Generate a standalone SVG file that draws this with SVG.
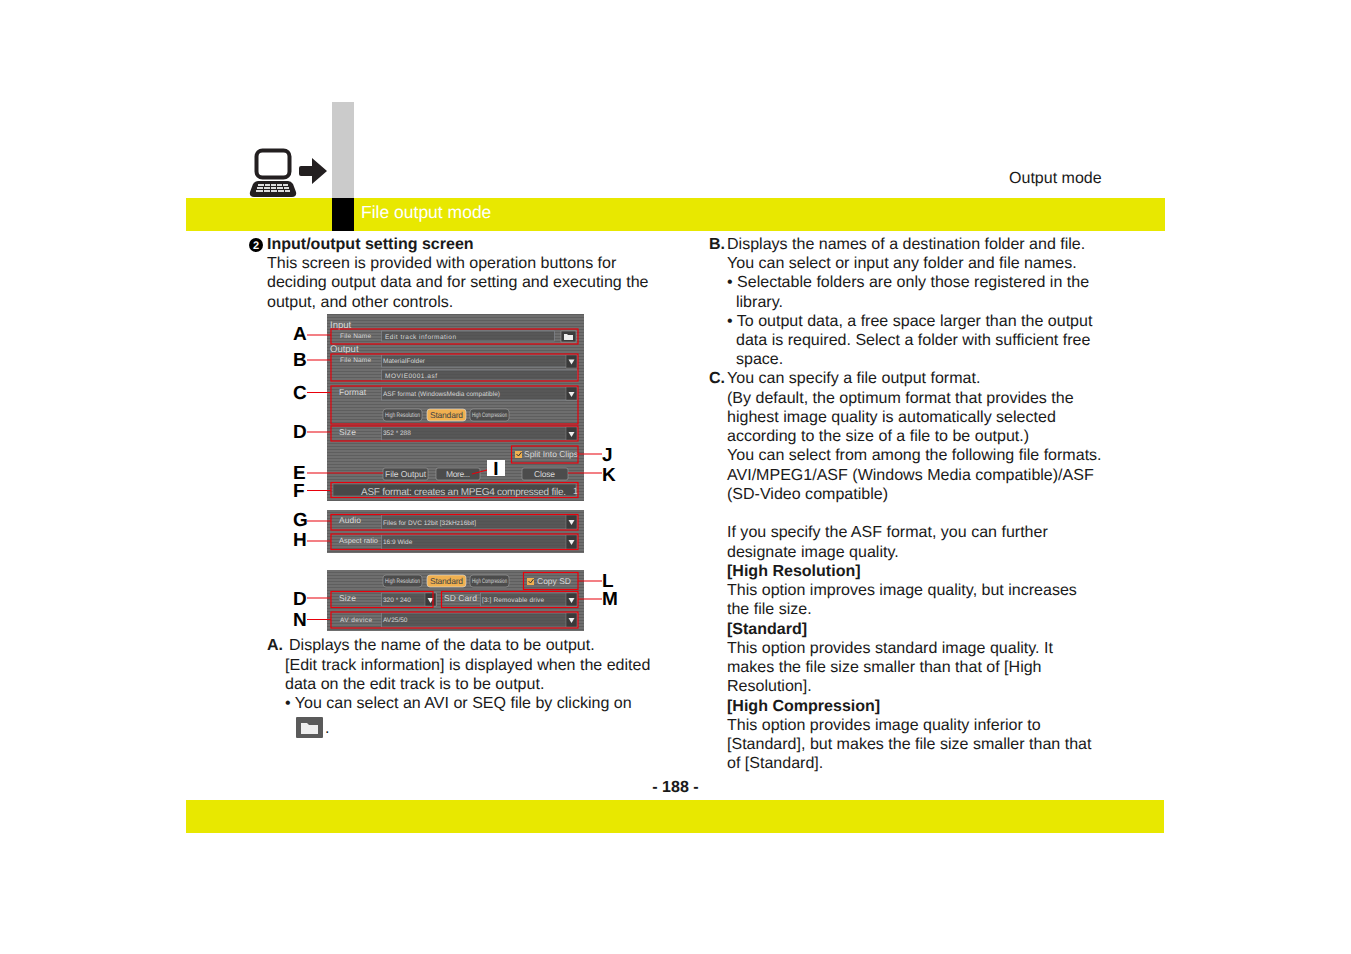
<svg xmlns="http://www.w3.org/2000/svg" width="1351" height="954" viewBox="0 0 1351 954">
<style>
text{text-rendering:geometricPrecision}
.t{font-family:"Liberation Sans",Arial,sans-serif;font-size:16.050px;fill:#1a1a1a}
.b{font-weight:bold}
.L{font-family:"Liberation Sans",Arial,sans-serif;font-size:19px;font-weight:bold;fill:#000}
.u{font-family:"Liberation Sans",Arial,sans-serif;font-size:8.500px;fill:#d8d8d8}
.s{font-family:"Liberation Sans",Arial,sans-serif;font-size:6.500px;fill:#d8d8d8}
.f{fill:#505050;fill-opacity:.75;stroke:#8a9098;stroke-width:.6}
.dd{fill:#3a3a3a;stroke:#999;stroke-width:.4}
.ar{fill:#eee}
.btn{fill:#4c4c4c;stroke:#a0a0a0;stroke-width:.6}
.on{fill:#f0b050;stroke:#ddd;stroke-width:.6}
.r{fill:none;stroke:#e8000b;stroke-width:1.200}
.l{stroke:#e8000b;stroke-width:1.100;fill:none}
</style>
<defs>
<pattern id="st" width="3" height="3" patternUnits="userSpaceOnUse"><rect width="3" height="3" fill="#6e6e6e"/><rect y="2" width="3" height="1" fill="#5e5e5e"/></pattern>
</defs>
<rect width="1351" height="954" fill="#fff"/>
<g id="header">
<rect x="332" y="102" width="22" height="96" fill="#cbcbcb"/>
<rect x="186" y="198" width="979" height="33" fill="#e8e800"/>
<rect x="332" y="198" width="22" height="33" fill="#000"/>
<text x="361" y="218" style="font-family:'Liberation Sans',Arial,sans-serif;font-size:17.500px;fill:#fff">File output mode</text>
<text class="t" x="1009" y="183">Output mode</text>
<g id="computer-icon">
<rect x="256.500" y="150.500" width="33" height="27" rx="6" fill="#fff" stroke="#231f20" stroke-width="4"/>
<path d="M258 181h30q3 0 5 3l3 8q1 5-4 5h-38q-5 0-4-5l3-8q2-3 5-3z" fill="#231f20"/>
<path d="M258 184h6v2h-6zM265 184h5v2h-5zM271 184h5v2h-5zM277 184h5v2h-5zM283 184h5v2h-5zM257 187h6v2h-6zM264 187h6v2h-6zM271 187h5v2h-5zM277 187h6v2h-6zM284 187h5v2h-5zM256 190h7v2h-7zM264 190h6v2h-6zM271 190h6v2h-6zM278 190h6v2h-6zM285 190h5v2h-5z" fill="#ddd"/>
<path d="M301 166h11v-8l15 13-15 13v-8h-11q-2 0-2-2v-6q0-2 2-2z" fill="#231f20"/>
</g>
</g>
<g id="left-text">
<circle cx="256" cy="245" r="7" fill="#000"/>
<text x="256" y="249" text-anchor="middle" style="font-family:'Liberation Sans',Arial,sans-serif;font-size:11px;font-weight:bold;fill:#fff">2</text>
<text class="t b" x="267" y="249">Input/output setting screen</text>
<text class="t" x="267" y="268">This screen is provided with operation buttons for</text>
<text class="t" x="267" y="287">deciding output data and for setting and executing the</text>
<text class="t" x="267" y="307">output, and other controls.</text>
<text class="t b" x="267" y="650">A.</text>
<text class="t" x="289" y="650">Displays the name of the data to be output.</text>
<text class="t" x="285" y="670">[Edit track information] is displayed when the edited</text>
<text class="t" x="285" y="689">data on the edit track is to be output.</text>
<text class="t" x="285" y="708">• You can select an AVI or SEQ file by clicking on</text>
<text class="t" x="325" y="733">.</text>
</g>
<g id="folder-icon">
<rect x="296" y="717" width="27" height="21" rx="1" fill="#5a5a5a"/>
<path d="M301 723h6l2 2h9v9h-17z" fill="#eee"/>
</g>
<g id="right-text">
<text class="t b" x="709" y="249">B.</text>
<text class="t" x="727" y="249">Displays the names of a destination folder and file.</text>
<text class="t" x="727" y="268">You can select or input any folder and file names.</text>
<text class="t" x="727" y="287">• Selectable folders are only those registered in the</text>
<text class="t" x="736" y="307">library.</text>
<text class="t" x="727" y="326">• To output data, a free space larger than the output</text>
<text class="t" x="736" y="345">data is required. Select a folder with sufficient free</text>
<text class="t" x="736" y="364">space.</text>
<text class="t b" x="709" y="383">C.</text>
<text class="t" x="727" y="383">You can specify a file output format.</text>
<text class="t" x="727" y="403">(By default, the optimum format that provides the</text>
<text class="t" x="727" y="422">highest image quality is automatically selected</text>
<text class="t" x="727" y="441">according to the size of a file to be output.)</text>
<text class="t" x="727" y="460">You can select from among the following file formats.</text>
<text class="t" x="727" y="480">AVI/MPEG1/ASF (Windows Media compatible)/ASF</text>
<text class="t" x="727" y="499">(SD-Video compatible)</text>
<text class="t" x="727" y="537">If you specify the ASF format, you can further</text>
<text class="t" x="727" y="557">designate image quality.</text>
<text class="t b" x="727" y="576">[High Resolution]</text>
<text class="t" x="727" y="595">This option improves image quality, but increases</text>
<text class="t" x="727" y="614">the file size.</text>
<text class="t b" x="727" y="634">[Standard]</text>
<text class="t" x="727" y="653">This option provides standard image quality. It</text>
<text class="t" x="727" y="672">makes the file size smaller than that of [High</text>
<text class="t" x="727" y="691">Resolution].</text>
<text class="t b" x="727" y="711">[High Compression]</text>
<text class="t" x="727" y="730">This option provides image quality inferior to</text>
<text class="t" x="727" y="749">[Standard], but makes the file size smaller than that</text>
<text class="t" x="727" y="768">of [Standard].</text>
</g>
<g id="footer">
<text class="t b" x="675.500" y="792" text-anchor="middle">- 188 -</text>
<rect x="186" y="800" width="978" height="33" fill="#e8e800"/>
</g>
<g id="panel-main">
<rect x="327" y="314" width="257" height="187" fill="url(#st)"/>
<text class="u" x="330" y="328" style="font-size:9.500px">Input</text>
<text class="s" x="340" y="338" textLength="31">File Name</text>
<rect class="f" x="381.500" y="331" width="173" height="10"/>
<text class="s" x="385" y="339" textLength="71">Edit track information</text>
<rect x="561" y="331" width="15" height="11" fill="#3c3c3c" stroke="#aaa" stroke-width=".5"/>
<path d="M564 334h3l1 1h5v5h-9z" fill="#eee"/>
<text class="u" x="330" y="352" style="font-size:9.500px">Output</text>
<text class="s" x="340" y="362" textLength="31">File Name</text>
<rect class="f" x="381.500" y="355" width="196" height="12"/>
<text class="s" x="383" y="363" textLength="42">MaterialFolder</text>
<rect class="f" x="381.500" y="370" width="196" height="10"/>
<text class="s" x="385" y="378" textLength="52">MOVIE0001.asf</text>
<text class="u" x="339" y="395" textLength="27">Format</text>
<rect class="f" x="381.500" y="387" width="196" height="13"/>
<text class="s" x="383" y="396" textLength="117">ASF format (WindowsMedia compatible)</text>
<rect class="btn" x="383" y="409" width="39" height="12" rx="3"/>
<text class="s" x="385" y="417" textLength="35" lengthAdjust="spacingAndGlyphs">High Resolution</text>
<rect class="on" x="427" y="409" width="39" height="12" rx="3"/>
<text class="u" x="430" y="418" textLength="33" style="fill:#444">Standard</text>
<rect class="btn" x="470" y="409" width="39" height="12" rx="3"/>
<text class="s" x="472" y="417" textLength="35" lengthAdjust="spacingAndGlyphs">High Compression</text>
<text class="u" x="339" y="435" textLength="17">Size</text>
<rect class="f" x="381.500" y="427" width="196" height="13"/>
<text class="s" x="383" y="435">352 * 288</text>
<rect x="515" y="451" width="7" height="7" fill="#f0b050"/>
<path d="M516.500 454l2 2 3-4" fill="none" stroke="#333"/>
<text class="u" x="524" y="457" textLength="54">Split Into Clips</text>
<rect class="btn" x="383" y="468" width="45" height="12" rx="2"/>
<text class="u" x="385" y="477" textLength="41">File Output</text>
<rect class="btn" x="436" y="468" width="44" height="12" rx="2"/>
<text class="u" x="446" y="477" textLength="24">More...</text>
<rect class="btn" x="522" y="468" width="46" height="12" rx="2"/>
<text class="u" x="534" y="477" textLength="21">Close</text>
<rect x="333" y="484" width="243" height="12" fill="#484848" stroke="#888" stroke-width=".5"/>
<text x="361" y="494.500" textLength="205" style="font-family:'Liberation Sans',Arial,sans-serif;font-size:10px;fill:#ccc">ASF format: creates an MPEG4 compressed file.</text>
<text x="573" y="494" style="font-family:'Liberation Sans',Arial,sans-serif;font-size:9px;fill:#ccc">1</text>
</g>
<g id="panel-audio">
<rect x="327" y="510" width="257" height="43" fill="url(#st)"/>
<text class="u" x="339" y="523" textLength="22">Audio</text>
<rect class="f" x="381.500" y="515" width="196" height="14"/>
<text class="s" x="383" y="525" textLength="93">Files for DVC 12bit [32kHz16bit]</text>
<text class="s" x="339" y="543" textLength="39" style="font-size:7.500px">Aspect ratio</text>
<rect class="f" x="381.500" y="535" width="196" height="14"/>
<text class="s" x="383" y="544">16:9 Wide</text>
</g>
<g id="panel-sd">
<rect x="327" y="570" width="257" height="61" fill="url(#st)"/>
<rect class="btn" x="383" y="575" width="39" height="12" rx="3"/>
<text class="s" x="385" y="583" textLength="35" lengthAdjust="spacingAndGlyphs">High Resolution</text>
<rect class="on" x="427" y="575" width="39" height="12" rx="3"/>
<text class="u" x="430" y="584" textLength="33" style="fill:#444">Standard</text>
<rect class="btn" x="470" y="575" width="39" height="12" rx="3"/>
<text class="s" x="472" y="583" textLength="35" lengthAdjust="spacingAndGlyphs">High Compression</text>
<rect x="527" y="578" width="7" height="7" fill="#f0b050"/>
<path d="M528.500 581l2 2 3-4" fill="none" stroke="#333"/>
<text class="u" x="537" y="584" textLength="34">Copy SD</text>
<text class="u" x="339" y="601" textLength="17">Size</text>
<rect class="f" x="381.500" y="593" width="55" height="13"/>
<text class="s" x="383" y="602">320 * 240</text>
<text class="u" x="444" y="601" textLength="33">SD Card</text>
<rect class="f" x="480.500" y="593" width="97" height="13"/>
<text class="s" x="482" y="602" textLength="62">[3:] Removable drive</text>
<text class="s" x="340" y="622" textLength="32">AV device</text>
<rect class="f" x="381.500" y="613" width="196" height="14"/>
<text class="s" x="383" y="622">AV25/50</text>
</g>
<g id="dropdown-buttons">
<g class="dd">
<rect x="566" y="355" width="11" height="13"/><rect x="566" y="387" width="11" height="13"/><rect x="566" y="427" width="11" height="13"/><rect x="566" y="515" width="11" height="14"/><rect x="566" y="535" width="11" height="14"/><rect x="425" y="593" width="11" height="13"/><rect x="566" y="593" width="11" height="13"/><rect x="566" y="613" width="11" height="14"/>
</g>
<g class="ar">
<path d="M568.500 359.500h6l-3 5z"/><path d="M568.500 392h6l-3 5z"/><path d="M568.500 432h6l-3 5z"/><path d="M568.500 520h6l-3 5z"/><path d="M568.500 540h6l-3 5z"/><path d="M427.500 598h6l-3 5z"/><path d="M568.500 598h6l-3 5z"/><path d="M568.500 618h6l-3 5z"/>
</g>
</g>
<g id="highlights">
<rect class="r" x="331" y="329" width="247" height="15"/>
<rect class="r" x="331" y="354" width="247" height="27"/>
<rect class="r" x="331" y="386" width="247" height="38"/>
<rect class="r" x="331" y="426" width="247" height="15"/>
<rect class="r" x="511.500" y="446" width="66.500" height="17"/>
<rect class="r" x="331" y="482.500" width="247" height="15"/>
<rect class="r" x="331" y="514.500" width="247" height="15.500"/>
<rect class="r" x="331" y="534" width="247" height="15.500"/>
<rect class="r" x="523.500" y="572.500" width="54.500" height="17"/>
<rect class="r" x="331" y="591.500" width="102" height="16"/>
<rect class="r" x="441.500" y="591.500" width="136.500" height="16"/>
<rect class="r" x="331" y="612" width="247" height="16"/>
</g>
<g id="connectors">
<path class="l" d="M307 335H331M307 360H331M307 392.500H331M307 432H331M307 473H383M307 490.500H331M307 521H331M307 541H331M307 598H331M307 619.500H331M578 454H602M568 473H602M578 581H602M578 599H602M472 474L487 470"/>
</g>
<g id="labels">
<rect x="487" y="460" width="18" height="16" fill="#fff"/>
<text class="L" x="496" y="475" text-anchor="middle">I</text>
<text class="L" x="293" y="340">A</text>
<text class="L" x="293" y="366">B</text>
<text class="L" x="293" y="399">C</text>
<text class="L" x="293" y="438">D</text>
<text class="L" x="293" y="479">E</text>
<text class="L" x="293" y="497">F</text>
<text class="L" x="293" y="526">G</text>
<text class="L" x="293" y="546">H</text>
<text class="L" x="293" y="605">D</text>
<text class="L" x="293" y="626">N</text>
<text class="L" x="602" y="461">J</text>
<text class="L" x="602" y="481">K</text>
<text class="L" x="602" y="587">L</text>
<text class="L" x="602" y="605">M</text>
</g>
</svg>
